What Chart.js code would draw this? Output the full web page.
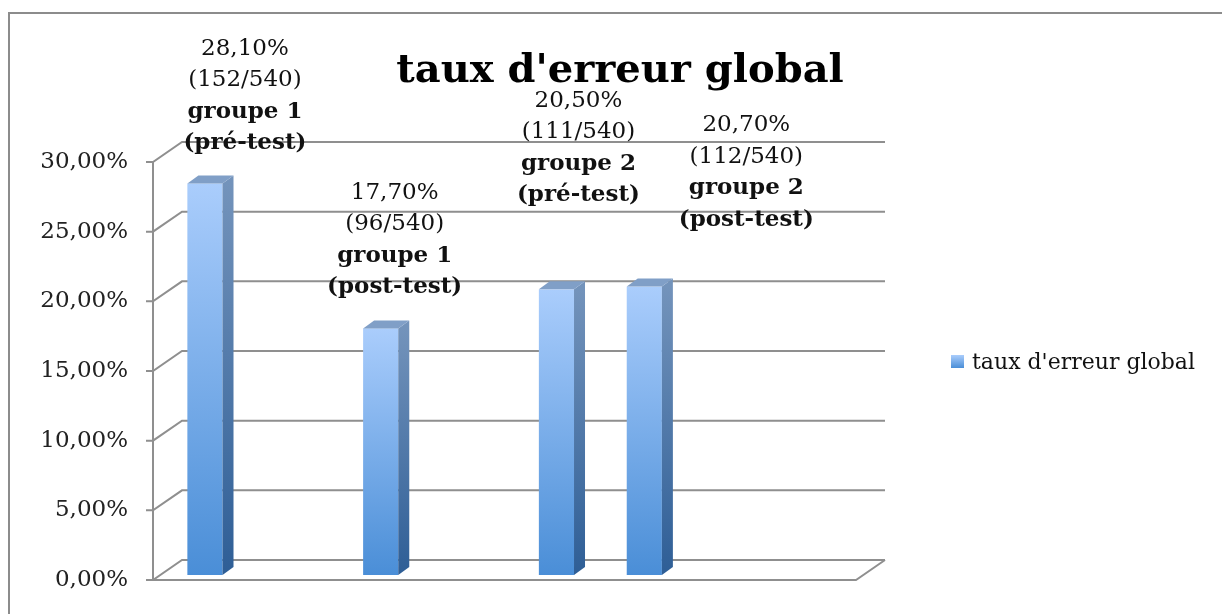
<!DOCTYPE html>
<html>
<head>
<meta charset="utf-8">
<script src="https://cdn.jsdelivr.net/npm/chart.js@4.4.0/dist/chart.umd.min.js"></script>
<style>
  html, body { margin: 0; padding: 0; background: #fff; }
  #wrap { width: 1222px; height: 614px; position: relative; }
</style>
</head>
<body>
<div id="wrap"><canvas id="errChart" width="1222" height="614"></canvas></div>
<script>
// data (empty slots keep the bar spacing of the original)
const categories = ["", "", "", "", "", "", "", ""];
const errorRates = [28.1, null, 17.7, null, 20.5, 20.7, null, null];
const fractions = ["(152/540)", "", "(96/540)", "", "(111/540)", "(112/540)", "", ""];
const groupNames = ["groupe 1", "", "groupe 1", "", "groupe 2", "groupe 2", "", ""];
const testNames = ["(pré-test)", "", "(post-test)", "", "(pré-test)", "(post-test)", "", ""];
const yTicks = [0, 5, 10, 15, 20, 25, 30];
const seriesName = "taux d'erreur global";

// label placement relative to bar top (manually moved in the original)
const labelShift = [[48, -45], null, [22, -46], null, [30, -99], [110, -72], null, null];

const FONT = "'DejaVu Serif', 'Liberation Serif', serif";
const DEPTH_X = 29, DEPTH_Y = -20;
const gridColor = "#8f8f8f";

function fmt(v) {
  return v.toFixed(2).replace(".", ",") + "%";
}

// 3D-ish walls, gridlines, frame, title, labels and legend
const wallsPlugin = {
  id: "walls",
  beforeDraw(chart) {
    const c = chart.ctx;
    c.save();
    c.strokeStyle = "#8c8c8c";
    c.lineWidth = 2;
    c.beginPath();
    c.moveTo(9, 700);
    c.lineTo(9, 13);
    c.lineTo(1300, 13);
    c.stroke();
    // title
    c.fillStyle = "#000";
    c.textAlign = "center";
    c.textBaseline = "middle";
    c.font = "bold 40px " + FONT;
    c.fillText(seriesName, 620, 72);
    c.restore();
  },
  beforeDatasetsDraw(chart) {
    const c = chart.ctx;
    const y = chart.scales.y;
    const a = chart.chartArea;
    c.save();
    c.strokeStyle = gridColor;
    c.lineWidth = 2;
    yTicks.forEach(v => {
      const py = y.getPixelForValue(v);
      c.beginPath();
      c.moveTo(a.left - 7, py);
      c.lineTo(a.left, py);
      c.lineTo(a.left + DEPTH_X, py + DEPTH_Y);
      c.lineTo(a.right + DEPTH_X, py + DEPTH_Y);
      c.stroke();
    });
    const p0 = y.getPixelForValue(0);
    c.beginPath();
    c.moveTo(a.left, y.getPixelForValue(30));
    c.lineTo(a.left, p0);
    c.lineTo(a.right, p0);
    c.lineTo(a.right + DEPTH_X, p0 + DEPTH_Y);
    c.stroke();
    c.restore();
  },
  afterDatasetsDraw(chart) {
    const c = chart.ctx;
    const meta = chart.getDatasetMeta(0);
    c.save();
    meta.data.forEach((el, i) => {
      if (errorRates[i] == null) return;
      const w = el.width;
      const x0 = el.x - w / 2 + 8, x1 = x0 + w;
      const yt = el.y - 5, yb = el.base - 5;
      const dx = 11, dy = -8;
      // front
      let g = c.createLinearGradient(0, yt, 0, yb);
      g.addColorStop(0, "#aacdfc");
      g.addColorStop(1, "#4a8ed7");
      c.fillStyle = g;
      c.fillRect(x0, yt, w, yb - yt);
      // side
      g = c.createLinearGradient(0, yt, 0, yb);
      g.addColorStop(0, "#7393bb");
      g.addColorStop(1, "#2e5e96");
      c.fillStyle = g;
      c.beginPath();
      c.moveTo(x1, yt);
      c.lineTo(x1 + dx, yt + dy);
      c.lineTo(x1 + dx, yb + dy);
      c.lineTo(x1, yb);
      c.closePath();
      c.fill();
      // top
      c.fillStyle = "#809fc7";
      c.beginPath();
      c.moveTo(x0, yt);
      c.lineTo(x0 + dx, yt + dy);
      c.lineTo(x1 + dx, yt + dy);
      c.lineTo(x1, yt);
      c.closePath();
      c.fill();
    });

    // data labels
    c.fillStyle = "#111";
    c.textAlign = "center";
    c.textBaseline = "middle";
    meta.data.forEach((el, i) => {
      if (errorRates[i] == null) return;
      const cx = el.x + labelShift[i][0];
      const by = el.y + labelShift[i][1];
      const lh = 31.5;
      c.font = "23px " + FONT;
      c.fillText(fmt(errorRates[i]), cx, by - 3 * lh);
      c.fillText(fractions[i], cx, by - 2 * lh);
      c.font = "bold 23px " + FONT;
      c.fillText(groupNames[i], cx, by - lh);
      c.fillText(testNames[i], cx, by);
    });

    // legend
    const lg = c.createLinearGradient(0, 355, 0, 368);
    lg.addColorStop(0, "#aacdfc");
    lg.addColorStop(1, "#4a8ed7");
    c.fillStyle = lg;
    c.fillRect(951, 355, 13, 13);
    c.fillStyle = "#111";
    c.textAlign = "left";
    c.font = "22px " + FONT;
    c.fillText(seriesName, 972, 363);
    c.restore();
  }
};

new Chart(document.getElementById("errChart").getContext("2d"), {
  type: "bar",
  data: {
    labels: categories,
    datasets: [{
      label: seriesName,
      data: errorRates,
      backgroundColor: "rgba(0,0,0,0)",
      barPercentage: 0.4,
      categoryPercentage: 1.0
    }]
  },
  options: {
    responsive: false,
    animation: false,
    layout: { padding: { left: 0, right: 366, top: 162, bottom: 34 } },
    plugins: {
      legend: { display: false },
      tooltip: { enabled: false },
      title: { display: false }
    },
    scales: {
      x: { display: false },
      y: {
        min: 0,
        max: 30,
        afterFit(scale) {
          scale.width = 153;
          scale.paddingTop = 0;
          scale.paddingBottom = 0;
        },
        border: { display: false },
        grid: { display: false, drawTicks: false },
        ticks: {
          stepSize: 5,
          padding: 25,
          color: "#222",
          font: { family: FONT, size: 23 },
          callback: v => fmt(v)
        }
      }
    }
  },
  plugins: [wallsPlugin]
});
</script>
</body>
</html>
